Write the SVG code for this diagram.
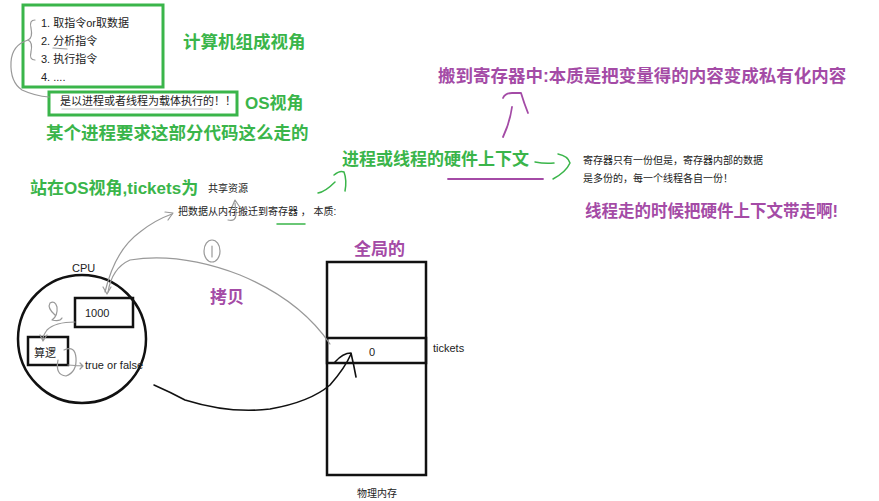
<svg xmlns="http://www.w3.org/2000/svg" width="879" height="501" viewBox="0 0 879 501">
<style>
.zh{font-family:"Liberation Sans","Noto Sans CJK SC",sans-serif;fill:#222}
.s{font-size:11px}
.xs{font-size:10px}
.g{font-family:"Liberation Sans","Noto Sans CJK SC",sans-serif;font-size:17px;font-weight:bold;fill:#3ab54a}
.p{font-family:"Liberation Sans","Noto Sans CJK SC",sans-serif;font-size:17px;font-weight:bold;fill:#a44ba6}
.gbox{fill:none;stroke:#3ab54a;stroke-width:3}
.blk{fill:none;stroke:#111;stroke-width:2.5}
.pen{fill:none;stroke-linecap:round;stroke-linejoin:round}
.gray{stroke:#999;stroke-width:1.2}
</style>
<rect width="879" height="501" fill="#fff"/>

<g id="instr-box">
<rect class="gbox" x="23" y="5" width="140" height="82"/>
<text class="zh s" x="41" y="27">1. 取指令or取数据</text>
<text class="zh s" x="41" y="45">2. 分析指令</text>
<text class="zh s" x="41" y="63">3. 执行指令</text>
<text class="zh s" x="41" y="81">4. ....</text>
</g>
<text class="g" x="183" y="48" style="font-size:17.5px">计算机组成视角</text>

<g id="os-box">
<rect class="gbox" x="49" y="92" width="188" height="23"/>
<text class="zh s" x="60" y="105">是以进程或者线程为载体执行的！！</text>
</g>
<text class="g" x="245" y="109">OS视角</text>
<text class="g" x="46" y="139" style="font-size:17.5px">某个进程要求这部分代码这么走的</text>

<text class="g" x="30" y="194">站在OS视角,tickets为</text>
<text class="zh xs" x="208" y="192">共享资源</text>
<text class="zh xs" x="178" y="215">把数据从内存搬迁到寄存器 ，  本质:</text>

<text class="p" x="438" y="82" style="font-size:17.5px">搬到寄存器中:本质是把变量得的内容变成私有化内容</text>
<text class="g" x="342" y="165">进程或线程的硬件上下文</text>
<text class="zh xs" x="583" y="164">寄存器只有一份但是，寄存器内部的数据</text>
<text class="zh xs" x="583" y="182">是多份的，每一个线程各自一份！</text>
<text class="p" x="585" y="217" style="font-size:16.5px">线程走的时候把硬件上下文带走啊!</text>

<g id="cpu">
<circle class="blk" cx="82" cy="339" r="64"/>
<text class="zh s" x="72" y="272">CPU</text>
</g>
<g id="reg">
<rect class="blk" x="75" y="298" width="58" height="29" fill="#fff"/>
<text class="zh s" x="85" y="317">1000</text>
</g>
<g id="alu">
<rect class="blk" x="28" y="337" width="40" height="28" fill="#fff"/>
<text class="zh s" x="34" y="357">算逻</text>
</g>
<text class="zh s" x="85" y="369">true or false</text>

<text class="p" x="210" y="303">拷贝</text>

<g id="memory">
<text class="p" x="354" y="255">全局的</text>
<rect class="blk" x="327" y="262" width="99" height="213" fill="#fff"/>
<rect class="blk" x="327" y="338" width="99" height="25"/>
<text class="zh s" x="369" y="356">0</text>
<text class="zh s" x="433" y="352">tickets</text>
<text class="zh xs" x="357" y="497">物理内存</text>
</g>

<g id="connectors">
<path class="pen gray" d="M35,20 Q29,20 31,28 Q33,38 28,40 Q33,42 31,52 Q29,60 35,60"/>
<path class="pen gray" d="M28,40 Q12,45 11,62 Q10,82 22,90 Q35,96 49,97"/>
<path class="pen gray" d="M53,48 L67,49"/>
<path class="pen gray" d="M62,109 L212,109" stroke-opacity="0.6"/>
<path class="pen gray" d="M105,292 Q115,250 140,232 Q155,220 172,214"/>
<path class="pen gray" d="M165,212 L173,213 L168,220"/>
<path class="pen gray" d="M108,292 Q112,268 130,260 Q180,252 240,275 Q300,300 330,344"/>
<path class="pen gray" d="M103,287 L107,294 L111,287"/>
<ellipse class="pen gray" cx="212" cy="251" rx="8" ry="11"/>
<path class="pen gray" d="M212,246 L212,257"/>
<path class="pen gray" d="M235,203 L236,214 Q236,222 228,220"/>
<path class="pen gray" d="M232,207 L235,200 L239,206"/>
<path class="pen gray" d="M55,315 Q47,308 50,303 Q55,300 57,307 Q58,316 52,320 Q60,322 62,318 M75,322 Q55,322 47,330 Q42,337 43,340 M40,335 L43,341 L47,335"/>
<path class="pen gray" d="M64,350 Q75,345 76,358 Q77,372 66,376 Q55,375 58,360 M68,365 L83,366 M80,363 L83,366 L80,369"/>
<path class="pen" stroke="#3ab54a" stroke-width="1.5" d="M277,224 L305,224"/>
<path class="pen" stroke="#3ab54a" stroke-width="1.5" d="M318,193 Q325,192 335,182"/>
<path class="pen" stroke="#3ab54a" stroke-width="1.5" d="M334,175 Q340,170 344,172 Q347,180 345,191"/>
<path class="pen" stroke="#3ab54a" stroke-width="1.5" d="M535,162 Q545,164 554,163"/>
<path class="pen" stroke="#3ab54a" stroke-width="1.5" d="M558,154 Q568,156 570,163 Q566,172 553,179"/>
<path class="pen" stroke="#a44ba6" stroke-width="1.8" d="M448,179 L543,179"/>
<path class="pen" stroke="#a44ba6" stroke-width="1.8" d="M503,137 Q510,122 512,107"/>
<path class="pen" stroke="#a44ba6" stroke-width="1.8" d="M503,98 Q505,93 512,93 L521,93 Q524,103 528,113"/>
<path class="pen" stroke="#111" stroke-width="1.6" d="M154,385 Q170,392 185,400 Q230,414 270,409 Q310,402 330,385 Q345,368 351,354"/>
<path class="pen" stroke="#111" stroke-width="1.6" d="M335,362 Q343,353 351,353 Q354,366 356,377"/>
</g>
</svg>
